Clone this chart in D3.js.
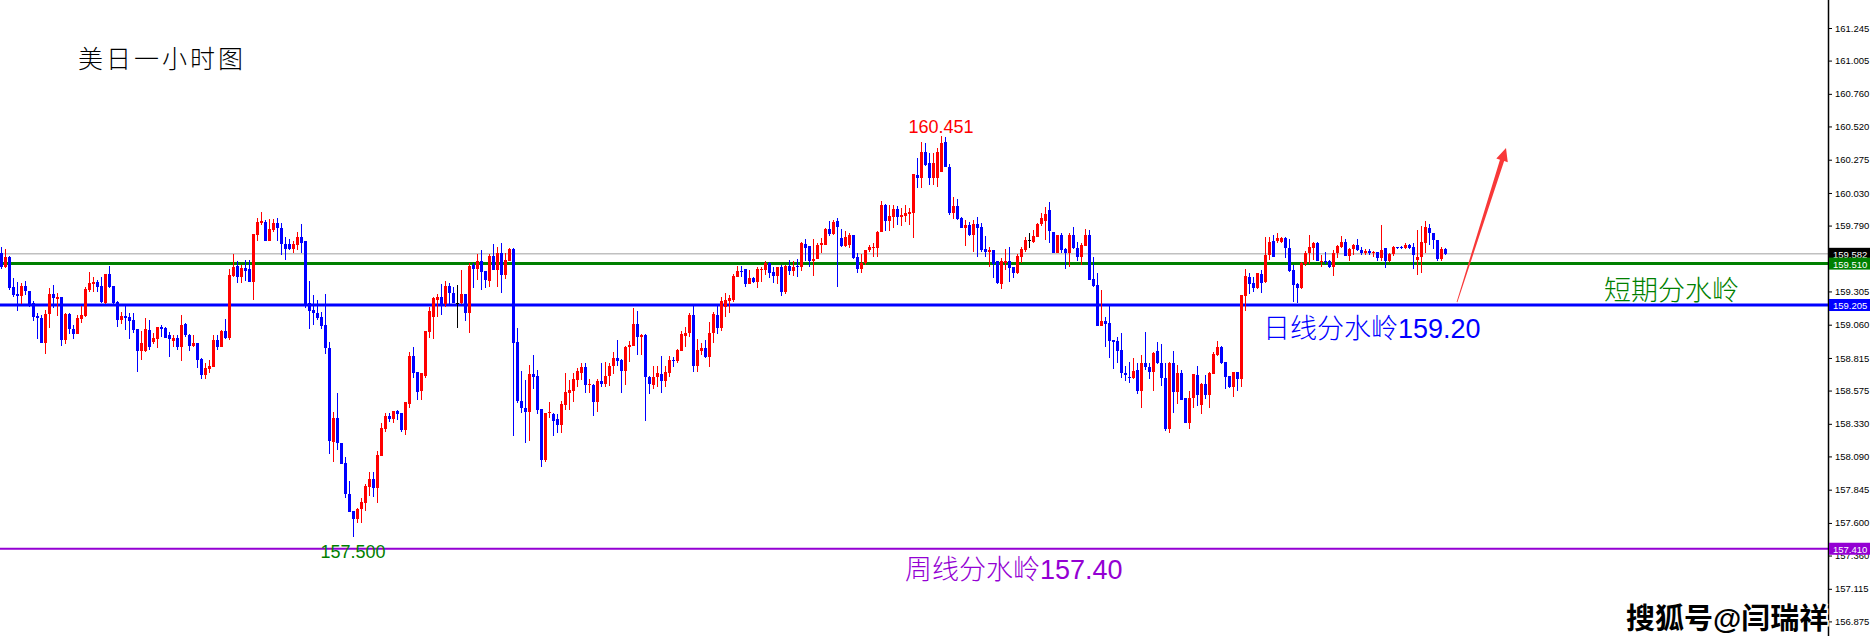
<!DOCTYPE html>
<meta charset="utf-8">
<style>
    body { margin: 0; background: #fff; }
    svg { display: block; }
    .axis text { font: 9.5px "Liberation Sans", Arial, sans-serif; fill: #000; }
    .axis line { stroke: #000; }
    .axis path { display: none; }
    .cjk { font-family: "Liberation Sans", "Noto Sans CJK SC", sans-serif; }
</style>
<body>
<script src="https://d3js.org/d3.v7.min.js"></script>
<script>
// USDJPY H1 candles (oldest first)
var opens = [
159.588,159.485,159.558,159.337,159.286,159.271,159.345,159.308,159.220,159.124,
159.109,158.927,159.139,159.286,159.249,159.264,158.947,159.139,159.029,158.991,
159.102,159.124,159.315,159.359,159.374,159.345,159.220,159.433,159.345,159.227,
159.094,159.124,159.117,159.094,159.029,158.866,158.866,159.021,158.932,158.955,
159.043,159.036,158.984,158.940,158.962,158.896,159.065,158.984,158.903,158.925,
158.807,158.689,158.734,158.748,158.947,158.896,159.014,158.962,159.418,159.492,
159.411,159.478,159.470,159.376,159.720,159.809,159.816,159.678,159.757,159.809,
159.772,159.654,159.654,159.617,159.647,159.706,159.676,159.220,159.168,159.146,
159.117,159.058,158.889,158.196,158.373,158.189,158.041,157.813,157.688,157.629,
157.702,157.747,157.865,157.924,157.857,158.093,158.292,158.388,158.366,158.424,
158.410,158.284,158.476,158.830,158.712,158.571,158.682,159.007,159.117,159.242,
159.264,159.212,159.345,159.293,159.222,159.222,159.286,159.146,159.500,159.470,
159.529,159.455,159.382,159.566,159.463,159.588,159.426,159.529,159.617,158.932,
158.498,158.446,158.417,158.697,158.682,158.439,158.063,158.410,158.402,158.366,
158.321,158.469,158.557,158.571,158.653,158.704,158.748,158.616,158.616,158.490,
158.645,158.623,158.682,158.756,158.815,158.800,158.719,158.896,158.905,159.065,
158.969,158.984,158.675,158.616,158.675,158.697,158.645,158.704,158.800,158.793,
158.866,158.976,158.999,159.131,158.756,158.866,158.889,158.822,158.999,159.131,
159.036,159.190,159.234,159.242,159.411,159.455,159.470,159.359,159.404,159.374,
159.463,159.463,159.514,159.448,159.418,159.485,159.301,159.492,159.455,159.492,
159.485,159.654,159.640,159.529,159.544,159.647,159.647,159.765,159.727,159.824,
159.698,159.640,159.650,159.720,159.558,159.470,159.514,159.610,159.625,159.625,
159.742,159.941,159.824,159.853,159.912,159.853,159.860,159.875,159.883,160.162,
160.140,160.332,160.251,160.140,160.140,160.184,160.405,160.221,159.880,159.934,
159.843,159.772,159.794,159.720,159.801,159.779,159.615,159.595,159.610,159.529,
159.359,159.514,159.529,159.485,159.440,159.558,159.610,159.684,159.669,159.706,
159.801,159.824,159.905,159.742,159.590,159.720,159.615,159.588,159.720,159.625,
159.558,159.640,159.720,159.396,159.352,159.050,159.087,159.072,158.947,158.940,
158.874,158.704,158.675,158.667,158.726,158.571,158.778,158.748,158.712,158.866,
158.778,158.667,158.292,158.778,158.564,158.704,158.517,158.338,158.520,158.689,
158.469,158.623,158.542,158.697,158.837,158.896,158.785,158.682,158.601,158.712,
158.660,159.271,159.411,159.367,159.330,159.433,159.374,159.573,159.676,159.676,
159.669,159.698,159.625,159.463,159.359,159.330,159.507,159.585,159.625,159.662,
159.519,159.531,159.529,159.485,159.588,159.635,159.669,159.566,159.617,159.647,
159.610,159.588,159.602,159.588,159.592,159.551,159.625,159.529,159.580,159.632,
159.632,159.627,159.647,159.632,159.536,159.555,159.662,159.772,159.738,159.684,
159.544,159.617];
var highs = [
159.632,159.617,159.566,159.404,159.374,159.367,159.382,159.308,159.234,159.146,
159.131,159.168,159.330,159.352,159.293,159.264,159.146,159.146,159.058,159.131,
159.198,159.337,159.448,159.411,159.389,159.411,159.436,159.492,159.345,159.234,
159.153,159.198,159.146,159.146,159.029,159.014,159.109,159.094,158.999,159.045,
159.058,159.043,159.007,158.984,158.984,159.131,159.072,158.991,158.984,158.925,
158.815,158.778,158.800,158.984,158.984,159.021,159.102,159.470,159.580,159.529,
159.500,159.536,159.536,159.727,159.846,159.890,159.831,159.838,159.838,159.846,
159.809,159.706,159.691,159.676,159.742,159.801,159.676,159.382,159.279,159.242,
159.153,159.286,158.932,158.417,158.557,158.189,158.086,157.909,157.688,157.710,
157.784,157.887,157.975,157.975,158.130,158.336,158.410,158.410,158.426,158.432,
158.410,158.490,158.859,158.896,158.712,158.706,159.016,159.190,159.264,159.286,
159.359,159.382,159.367,159.337,159.352,159.463,159.288,159.514,159.514,159.580,
159.610,159.455,159.580,159.654,159.632,159.662,159.588,159.625,159.625,159.036,
158.719,158.653,158.763,158.837,158.726,158.439,158.410,158.490,158.408,158.402,
158.498,158.704,158.653,158.704,158.741,158.778,158.778,158.660,158.623,158.660,
158.778,158.785,158.778,158.859,158.947,158.805,158.903,158.940,159.183,159.161,
158.991,158.991,158.682,158.756,158.756,158.830,158.756,158.830,158.822,158.881,
159.014,159.043,159.146,159.212,158.955,158.925,158.947,159.080,159.153,159.198,
159.264,159.293,159.279,159.433,159.492,159.492,159.470,159.463,159.411,159.485,
159.487,159.529,159.519,159.485,159.487,159.500,159.500,159.536,159.529,159.544,
159.669,159.691,159.640,159.691,159.662,159.698,159.772,159.824,159.831,159.846,
159.765,159.750,159.735,159.720,159.588,159.580,159.612,159.647,159.662,159.750,
159.971,159.949,159.941,159.941,159.934,159.919,159.941,159.919,160.170,160.288,
160.405,160.398,160.324,160.327,160.361,160.451,160.440,160.243,160.000,159.985,
159.853,159.831,159.816,159.831,159.853,159.809,159.713,159.632,159.612,159.529,
159.551,159.617,159.632,159.485,159.580,159.632,159.706,159.735,159.757,159.809,
159.883,159.927,159.963,159.742,159.722,159.735,159.625,159.735,159.779,159.669,
159.662,159.765,159.757,159.558,159.440,159.315,159.117,159.205,158.947,158.969,
158.999,158.756,158.785,158.815,158.778,158.837,159.007,158.778,158.859,158.932,
158.918,158.778,158.782,158.866,158.763,158.726,158.517,158.571,158.699,158.756,
158.630,158.689,158.712,158.859,158.940,158.903,158.785,158.682,158.715,158.712,
159.281,159.470,159.440,159.411,159.442,159.463,159.706,159.706,159.720,159.735,
159.706,159.706,159.691,159.500,159.364,159.519,159.602,159.720,159.669,159.669,
159.573,159.595,159.536,159.610,159.647,159.713,159.691,159.625,159.654,159.691,
159.632,159.617,159.617,159.602,159.594,159.794,159.625,159.588,159.640,159.634,
159.640,159.662,159.654,159.662,159.757,159.787,159.824,159.801,159.738,159.684,
159.632,159.625];
var lows = [
159.471,159.478,159.315,159.264,159.161,159.212,159.279,159.190,159.087,158.955,
158.922,158.845,159.036,159.183,159.124,158.903,158.918,158.991,158.955,158.991,
159.072,159.117,159.301,159.301,159.301,159.220,159.212,159.330,159.198,159.043,
159.065,159.021,158.955,158.999,158.712,158.800,158.859,158.874,158.918,158.889,
158.969,158.962,158.822,158.896,158.874,158.793,158.969,158.866,158.896,158.741,
158.660,158.660,158.704,158.745,158.874,158.893,158.955,158.947,159.411,159.367,
159.367,159.382,159.374,159.242,159.676,159.794,159.676,159.676,159.742,159.676,
159.573,159.536,159.610,159.588,159.610,159.588,159.183,159.029,159.058,159.094,
159.029,158.845,158.108,158.049,158.137,158.034,157.784,157.681,157.500,157.600,
157.600,157.688,157.799,157.791,157.747,158.090,158.270,158.344,158.336,158.358,
158.270,158.248,158.446,158.667,158.505,158.505,158.667,158.962,158.955,159.117,
159.131,159.190,159.212,159.220,159.036,159.212,159.087,158.999,159.330,159.389,
159.315,159.330,159.337,159.463,159.337,159.293,159.396,159.527,158.240,158.483,
158.410,158.189,158.203,158.586,158.402,158.012,158.049,158.373,158.240,158.262,
158.262,158.432,158.432,158.490,158.601,158.653,158.557,158.557,158.388,158.417,
158.601,158.601,158.608,158.697,158.756,158.557,158.616,158.785,158.903,158.837,
158.837,158.351,158.549,158.586,158.601,158.557,158.601,158.675,158.748,158.778,
158.864,158.896,158.969,158.712,158.712,158.837,158.815,158.748,158.925,158.991,
159.014,159.117,159.146,159.227,159.409,159.411,159.337,159.357,159.367,159.330,
159.374,159.426,159.404,159.367,159.359,159.271,159.286,159.426,159.418,159.411,
159.455,159.529,159.485,159.418,159.542,159.588,159.645,159.713,159.720,159.337,
159.632,159.632,159.628,159.544,159.440,159.440,159.500,159.595,159.558,159.558,
159.740,159.750,159.750,159.772,159.794,159.787,159.816,159.794,159.698,160.067,
160.067,160.229,160.089,160.089,160.074,160.182,160.221,159.868,159.838,159.831,
159.770,159.640,159.713,159.595,159.558,159.595,159.558,159.485,159.404,159.359,
159.323,159.463,159.374,159.404,159.433,159.514,159.595,159.625,159.662,159.704,
159.787,159.684,159.662,159.588,159.588,159.588,159.470,159.485,159.617,159.529,
159.500,159.638,159.389,159.337,159.050,159.048,158.896,158.815,158.734,158.778,
158.667,158.645,158.630,158.660,158.549,158.446,158.726,158.660,158.571,158.771,
158.608,158.277,158.262,158.410,158.476,158.503,158.336,158.292,158.446,158.461,
158.402,158.513,158.446,158.695,158.830,158.771,158.586,158.594,158.527,158.571,
158.601,159.161,159.286,159.301,159.323,159.293,159.367,159.536,159.558,159.662,
159.662,159.551,159.448,159.227,159.220,159.323,159.492,159.507,159.536,159.529,
159.485,159.507,159.478,159.418,159.551,159.625,159.566,159.529,159.573,159.602,
159.573,159.573,159.573,159.558,159.529,159.529,159.478,159.519,159.566,159.617,
159.617,159.617,159.617,159.470,159.426,159.440,159.588,159.647,159.617,159.529,
159.529,159.573];
var closes = [
159.485,159.558,159.330,159.279,159.271,159.345,159.308,159.212,159.117,159.109,
158.927,159.139,159.286,159.256,159.264,158.947,159.139,159.029,158.991,159.109,
159.131,159.323,159.367,159.374,159.337,159.225,159.433,159.337,159.220,159.094,
159.124,159.109,159.087,159.021,158.866,158.925,159.029,158.896,158.962,159.043,
159.029,158.964,158.955,158.962,158.896,159.058,158.984,158.903,158.925,158.800,
158.689,158.741,158.756,158.947,158.896,159.014,158.962,159.426,159.485,159.411,
159.478,159.455,159.376,159.725,159.816,159.824,159.678,159.765,159.809,159.772,
159.654,159.617,159.615,159.654,159.706,159.662,159.205,159.161,159.146,159.109,
159.050,158.889,158.203,158.373,158.189,158.036,157.813,157.683,157.629,157.702,
157.754,157.872,157.924,157.857,158.100,158.299,158.388,158.366,158.424,158.402,
158.284,158.488,158.830,158.704,158.564,158.704,159.014,159.161,159.256,159.264,
159.212,159.345,159.293,159.222,159.222,159.286,159.146,159.492,159.470,159.529,
159.448,159.389,159.566,159.465,159.588,159.426,159.536,159.617,158.925,158.498,
158.446,158.417,158.697,158.675,158.432,158.063,158.408,158.417,158.351,158.321,
158.476,158.564,158.579,158.660,158.719,158.748,158.616,158.623,158.490,158.645,
158.623,158.682,158.756,158.815,158.793,158.719,158.896,158.910,159.065,158.969,
158.984,158.675,158.623,158.675,158.704,158.645,158.712,158.800,158.793,158.874,
158.991,158.999,159.131,158.756,158.874,158.889,158.822,158.999,159.139,159.036,
159.234,159.242,159.256,159.418,159.455,159.448,159.359,159.404,159.374,159.470,
159.468,159.514,159.440,159.418,159.485,159.301,159.492,159.455,159.485,159.485,
159.662,159.625,159.529,159.544,159.647,159.662,159.765,159.727,159.816,159.779,
159.640,159.706,159.720,159.551,159.470,159.514,159.610,159.632,159.632,159.742,
159.941,159.824,159.860,159.912,159.853,159.868,159.883,159.890,160.168,160.140,
160.332,160.236,160.140,160.251,160.332,160.398,160.223,159.883,159.934,159.836,
159.772,159.794,159.720,159.801,159.772,159.610,159.595,159.610,159.507,159.367,
159.529,159.529,159.478,159.440,159.566,159.617,159.684,159.684,159.713,159.801,
159.846,159.875,159.750,159.590,159.720,159.610,159.588,159.720,159.625,159.558,
159.647,159.720,159.391,159.345,159.052,159.087,159.065,158.940,158.932,158.866,
158.704,158.689,158.667,158.719,158.571,158.778,158.748,158.712,158.854,158.778,
158.667,158.292,158.778,158.564,158.704,158.507,158.338,158.520,158.697,158.542,
158.623,158.542,158.704,158.845,158.896,158.778,158.675,158.601,158.712,158.660,
159.279,159.418,159.359,159.330,159.440,159.367,159.573,159.669,159.560,159.698,
159.698,159.625,159.455,159.352,159.330,159.514,159.588,159.632,159.662,159.531,
159.529,159.519,159.485,159.588,159.640,159.669,159.568,159.617,159.647,159.610,
159.588,159.602,159.588,159.592,159.551,159.610,159.529,159.580,159.632,159.625,
159.625,159.647,159.625,159.573,159.558,159.669,159.779,159.735,159.684,159.544,
159.617,159.582];

// price axis labels
var tickValues = [161.245, 161.005, 160.760, 160.520, 160.275, 160.030, 159.790,
                  159.305, 159.060, 158.815, 158.575, 158.330, 158.090, 157.845,
                  157.600, 157.360, 157.115, 156.875];

// horizontal levels: last price, short-term, daily, weekly
var levelPrices = [159.582, 159.510, 159.205, 157.410];
var levelNames = ["last", "短期分水岭", "日线分水岭159.20", "周线分水岭157.40"];

var width = 1875, height = 636;
var axisX = 1828;

var x = d3.scaleLinear().domain([0, 361]).range([1, 1445]);
var y = d3.scaleLinear().domain([156.875, 161.245]).range([621.4, 28]);

var candles = opens.map(function(o, i) {
    return {i: i, o: o, h: highs[i], l: lows[i], c: closes[i]};
});

function candleColor(d) {
    if (d.c > d.o) return "#ff0000";
    if (d.c < d.o) return "#0000ff";
    return "#000000";
}

var svg = d3.select("body").append("svg")
    .attr("width", width)
    .attr("height", height);

svg.append("rect").attr("width", width).attr("height", height).attr("fill", "#fff");

// level lines
var levelColors = ["#c0c0c0", "#008000", "#0000ff", "#9400d3"];
var levelWidths = [1.5, 3, 3, 2];
svg.append("g").selectAll("line")
    .data(levelPrices)
    .enter().append("line")
      .attr("x1", 0)
      .attr("x2", axisX)
      .attr("y1", function(d) { return y(d); })
      .attr("y2", function(d) { return y(d); })
      .attr("stroke", function(d, i) { return levelColors[i]; })
      .attr("stroke-width", function(d, i) { return levelWidths[i]; });

// wicks
var gc = svg.append("g").attr("shape-rendering", "crispEdges");
gc.selectAll("line")
    .data(candles)
    .enter().append("line")
      .attr("x1", function(d) { return x(d.i) + 0.5; })
      .attr("x2", function(d) { return x(d.i) + 0.5; })
      .attr("y1", function(d) { return y(d.h); })
      .attr("y2", function(d) { return y(d.l); })
      .attr("stroke", candleColor)
      .attr("stroke-width", 1);

// bodies
gc.selectAll("rect")
    .data(candles)
    .enter().append("rect")
      .attr("x", function(d) { return x(d.i) - 1; })
      .attr("width", 3)
      .attr("y", function(d) { return y(Math.max(d.o, d.c)); })
      .attr("height", function(d) { return Math.max(1, Math.abs(y(d.o) - y(d.c))); })
      .attr("fill", candleColor);

// right price axis
svg.append("line")
    .attr("x1", axisX + 0.5).attr("x2", axisX + 0.5)
    .attr("y1", 0).attr("y2", height)
    .attr("stroke", "#000").attr("stroke-width", 1.5);

svg.append("g")
    .attr("class", "axis")
    .attr("transform", "translate(" + (axisX + 1) + ",0)")
    .call(d3.axisRight(y).tickValues(tickValues).tickSize(3).tickPadding(3)
          .tickFormat(d3.format(".3f")));

// price boxes on axis
var boxColors = ["#000000", "#008000", "#0000ff", "#9400d3"];
var boxes = svg.append("g");
levelPrices.forEach(function(p, i) {
    boxes.append("rect")
        .attr("x", axisX + 1)
        .attr("y", y(p) - 6)
        .attr("width", 41)
        .attr("height", 12)
        .attr("fill", boxColors[i]);
    boxes.append("text")
        .attr("x", axisX + 5)
        .attr("y", y(p) + 4)
        .attr("fill", "#fff")
        .style("font", "9.5px 'Liberation Sans', Arial, sans-serif")
        .text(d3.format(".3f")(p));
});

// title
svg.append("text")
    .attr("class", "cjk")
    .attr("x", 78).attr("y", 68)
    .style("font-size", "25px")
    .style("font-weight", "300")
    .style("letter-spacing", "3px")
    .attr("fill", "#000")
    .text("美日一小时图");

// high / low marks
var hiIdx = d3.maxIndex(highs), loIdx = d3.minIndex(lows);
svg.append("text")
    .attr("x", x(hiIdx)).attr("y", y(highs[hiIdx]) - 3)
    .attr("text-anchor", "middle")
    .style("font", "18px 'Liberation Sans', Arial, sans-serif")
    .attr("fill", "#ff0000")
    .text(d3.format(".3f")(highs[hiIdx]));
svg.append("text")
    .attr("x", x(loIdx)).attr("y", y(lows[loIdx]) + 21)
    .attr("text-anchor", "middle")
    .style("font", "18px 'Liberation Sans', Arial, sans-serif")
    .attr("fill", "#008000")
    .text(d3.format(".3f")(lows[loIdx]));

// level captions
svg.append("text").attr("class", "cjk")
    .attr("x", 1604).attr("y", y(levelPrices[1]) + 36)
    .style("font-size", "27px").style("font-weight", "300").attr("fill", "#008000")
    .text(levelNames[1]);
svg.append("text").attr("class", "cjk")
    .attr("x", 1263).attr("y", y(levelPrices[2]) + 33)
    .style("font-size", "27px").style("font-weight", "300").attr("fill", "#0000ff")
    .text(levelNames[2]);
svg.append("text").attr("class", "cjk")
    .attr("x", 905).attr("y", y(levelPrices[3]) + 30)
    .style("font-size", "27px").style("font-weight", "300").attr("fill", "#9400d3")
    .text(levelNames[3]);

// red arrow (from daily level up past the last bars)
var a0 = [x(364), y(159.227)], a1 = [x(376.25), y(160.361)];
var dx = a1[0] - a0[0], dy = a1[1] - a0[1], len = Math.sqrt(dx * dx + dy * dy);
var ux = dx / len, uy = dy / len, nx = -uy, ny = ux;
var neck = [a1[0] - ux * 13, a1[1] - uy * 13];
var pts = [
    [a0[0] + nx * 0.4, a0[1] + ny * 0.4],
    [neck[0] + nx * 2.2, neck[1] + ny * 2.2],
    [neck[0] + nx * 6, neck[1] + ny * 6],
    a1,
    [neck[0] - nx * 6, neck[1] - ny * 6],
    [neck[0] - nx * 2.2, neck[1] - ny * 2.2],
    [a0[0] - nx * 0.4, a0[1] - ny * 0.4]
];
svg.append("polygon")
    .attr("points", pts.map(function(p) { return p.join(","); }).join(" "))
    .attr("fill", "#f83838");

// watermark
var wm = svg.append("g");
wm.append("text").attr("class", "cjk")
    .attr("x", 1626).attr("y", 629)
    .style("font-size", "29px").style("font-weight", "bold")
    .attr("fill", "#fff").attr("stroke", "#fff").attr("stroke-width", 3)
    .text("搜狐号@闫瑞祥");
wm.append("text").attr("class", "cjk")
    .attr("x", 1626).attr("y", 629)
    .style("font-size", "29px").style("font-weight", "bold")
    .attr("fill", "#000")
    .text("搜狐号@闫瑞祥");
</script>
</body>
